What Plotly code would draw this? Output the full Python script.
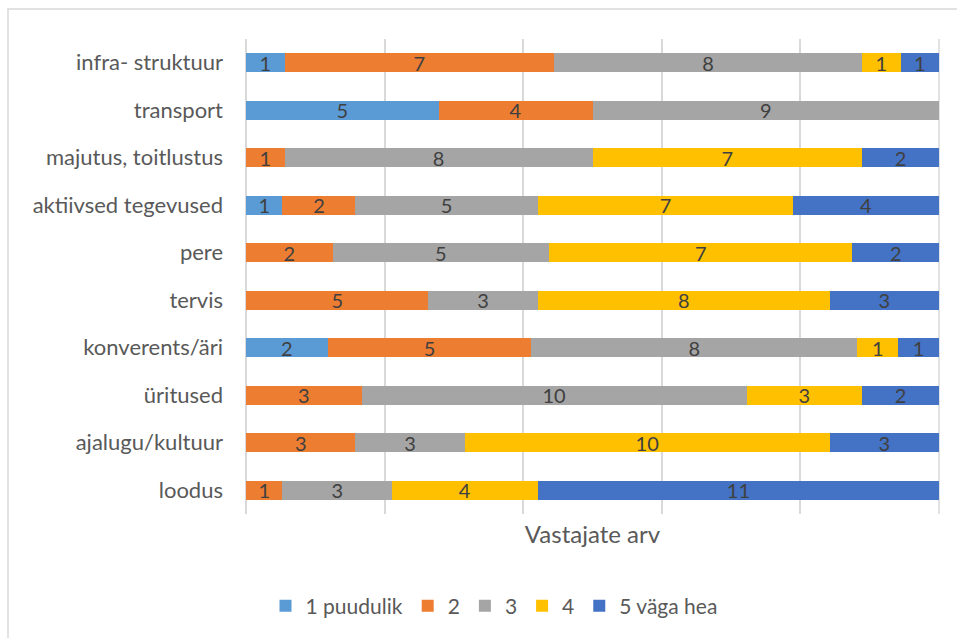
import plotly.graph_objects as go

categories = ["infra- struktuur", "transport", "majutus, toitlustus", "aktiivsed tegevused",
              "pere", "tervis", "konverents/äri", "üritused", "ajalugu/kultuur", "loodus"]
series_names = ["1 puudulik", "2", "3", "4", "5 väga hea"]
s1 = [1, 5, 0, 1, 0, 0, 2, 0, 0, 0]
s2 = [7, 4, 1, 2, 2, 5, 5, 3, 3, 1]
s3 = [8, 9, 8, 5, 5, 3, 8, 10, 3, 3]
s4 = [1, 0, 7, 7, 7, 8, 1, 3, 10, 4]
s5 = [1, 0, 2, 4, 2, 3, 1, 2, 3, 11]
colors = ["#5B9BD5", "#ED7D31", "#A5A5A5", "#FFC000", "#4472C4"]

FONT = "Lato, 'Open Sans', sans-serif"
GRID = "#D9D9D9"
fig = go.Figure()
for name, vals, col in zip(series_names, [s1, s2, s3, s4, s5], colors):
    fig.add_trace(go.Bar(
        y=categories, x=vals, name=name, orientation="h",
        marker=dict(color=col, line=dict(width=0)),
        text=[str(v) if v else "" for v in vals],
        textposition="inside", insidetextanchor="middle", textangle=0,
        constraintext="none",
        textfont=dict(family=FONT, size=20, color="#404040"),
        hoverinfo="skip",
    ))

L, R, T, B = 246, 18, 39, 124
W, H = 957, 638
pw, ph = W - L - R, H - T - B
fig.update_layout(
    width=W, height=H, barmode="stack", barnorm="percent", bargap=0.6,
    margin=dict(l=L, r=R, t=T, b=B, pad=0),
    plot_bgcolor="white", paper_bgcolor="white",
    font=dict(family=FONT, color="#595959"),
    xaxis=dict(range=[0, 100], dtick=20, showgrid=True, gridcolor=GRID, gridwidth=1.5,
               showticklabels=False, zeroline=True, zerolinecolor=GRID, zerolinewidth=1.5,
               showline=False,
               title=dict(text="Vastajate arv", font=dict(size=24, color="#595959"), standoff=12)),
    yaxis=dict(autorange="reversed", showgrid=False, zeroline=False, showline=False,
               ticks="", ticklabelstandoff=22,
               tickfont=dict(size=22, color="#595959")),
    legend=dict(orientation="h", xref="container", yref="container", x=494 / W, y=1 - 606 / H,
                xanchor="center", yanchor="middle", font=dict(size=21, color="#595959"),
                traceorder="normal", itemwidth=30),
    shapes=[dict(type="rect", xref="paper", yref="paper",
                 x0=(8 - L) / pw, x1=(1100 - L) / pw,
                 y0=(H - T - 800) / ph, y1=(T + ph - 9) / ph,
                 line=dict(color=GRID, width=1.5), layer="below"),
            dict(type="line", xref="paper", yref="paper", x0=1, x1=1, y0=0, y1=1,
                 line=dict(color=GRID, width=1.5), layer="below")],
)
fig.write_html("out.html", config={"displayModeBar": False},
               post_script="document.body.style.margin='0';document.body.style.overflow='hidden';")
